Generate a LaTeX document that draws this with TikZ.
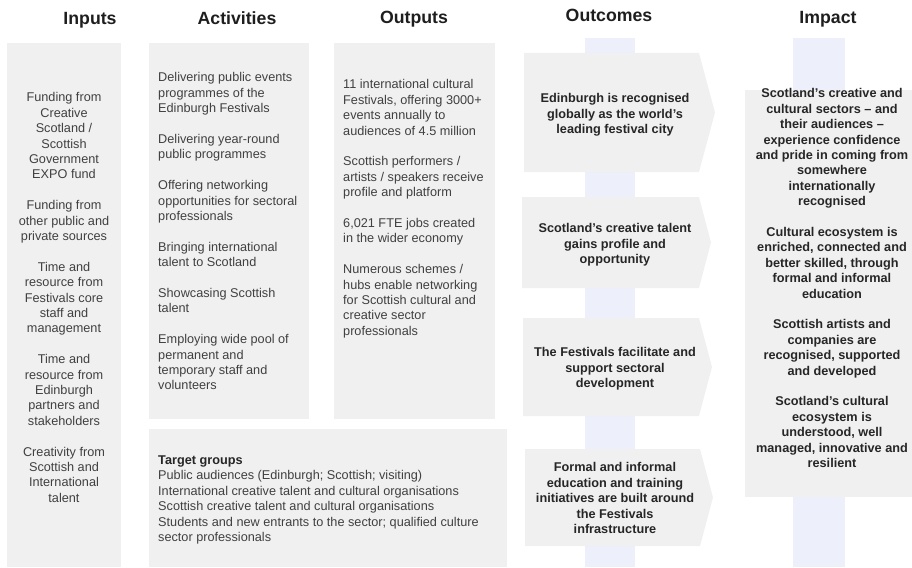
\documentclass[tikz,border=0pt]{standalone}
\usepackage{fontspec}
\setmainfont{Liberation Sans}
\definecolor{boxgray}{HTML}{F0F0F0}
\definecolor{stripc}{HTML}{EDEFFA}
\definecolor{bodytext}{HTML}{404040}
\definecolor{titletext}{HTML}{1E1E1E}
\definecolor{outtext}{HTML}{262626}
\tikzset{
  panel/.style={fill=boxgray, draw=none},
  stripe/.style={fill=stripc, draw=none},
  heading/.style={font=\fontsize{17.7}{20}\selectfont\bfseries, text=titletext, inner sep=0, anchor=base},
  body/.style={font=\fontsize{12.7}{15.4}\selectfont, text=bodytext, inner sep=0},
  bodyc/.style={body, align=center, anchor=north},
  bodyl/.style={body, align=left, anchor=north west},
  boldc/.style={font=\fontsize{12.7}{15.4}\selectfont\bfseries, text=outtext, inner sep=0, align=center, anchor=north},
}
\begin{document}
\begin{tikzpicture}[x=1pt,y=-1pt]
\useasboundingbox (0,0) rectangle (912,567);
% background strips
\path[stripe] (585,38) rectangle (635,567);
\path[stripe] (793,38) rectangle (845,567);
% panels
\path[panel] (7,43) rectangle (121,567);
\path[panel] (149,43) rectangle (309,419);
\path[panel] (334,43) rectangle (495,419);
\path[panel] (149,429) rectangle (507,567);
\path[panel] (745,90) rectangle (912,497);
% outcome arrows
\path[panel] (524,53) -- (699,53) -- (715,112.5) -- (699,172) -- (524,172) -- cycle;
\path[panel] (522,197) -- (699,197) -- (711,242.5) -- (699,288) -- (522,288) -- cycle;
\path[panel] (523,318) -- (699,318) -- (712,367) -- (699,416) -- (523,416) -- cycle;
\path[panel] (525,449) -- (700,449) -- (713,497.5) -- (700,546) -- (525,546) -- cycle;
% headings
\node[heading] (hin) at (90,25) {Inputs};
\node[heading] (hact) at (237,25) {Activities};
\node[heading] (hout) at (414,23.5) {Outputs};
\node[heading] (hoc) at (609,22) {Outcomes};
\node[heading] (him) at (828,23.5) {Impact};
% inputs
\node[bodyc] (inputs) at (64,92.5) {Funding from\\Creative\\Scotland /\\Scottish\\Government\\EXPO fund\\[15.4pt]
Funding from\\other public and\\private sources\\[15.4pt]
Time and\\resource from\\Festivals core\\staff and\\management\\[15.4pt]
Time and\\resource from\\Edinburgh\\partners and\\stakeholders\\[15.4pt]
Creativity from\\Scottish and\\International\\talent};
% activities
\node[bodyl] (activities) at (158,72.5) {Delivering public events\\
programmes of the\\
Edinburgh Festivals\\[15.4pt]
Delivering year-round\\
public programmes\\[15.4pt]
Offering networking\\
opportunities for sectoral\\
professionals\\[15.4pt]
Bringing international\\
talent to Scotland\\[15.4pt]
Showcasing Scottish\\
talent\\[15.4pt]
Employing wide pool of\\
permanent and\\
temporary staff and\\
volunteers};
% outputs
\node[bodyl] (outputs) at (343,79.5) {11 international cultural\\
Festivals, offering 3000+\\
events annually to\\
audiences of 4.5 million\\[15.4pt]
Scottish performers /\\
artists / speakers receive\\
profile and platform\\[15.4pt]
6,021 FTE jobs created\\
in the wider economy\\[15.4pt]
Numerous schemes /\\
hubs enable networking\\
for Scottish cultural and\\
creative sector\\
professionals};
% target groups
\node[bodyl] (targets) at (158,455.5) {\textbf{\color{outtext}Target groups}\\
Public audiences (Edinburgh; Scottish; visiting)\\
International creative talent and cultural organisations\\
Scottish creative talent and cultural organisations\\
Students and new entrants to the sector; qualified culture\\
sector professionals};
% outcomes
\node[boldc] (oc1) at (615,93.5) {Edinburgh is recognised\\globally as the world’s\\leading festival city};
\node[boldc] (oc2) at (615,223.5) {Scotland’s creative talent\\gains profile and\\opportunity};
\node[boldc] (oc3) at (615,347.5) {The Festivals facilitate and\\support sectoral\\development};
\node[boldc] (oc4) at (615,462.5) {Formal and informal\\education and training\\initiatives are built around\\the Festivals\\infrastructure};
% impact
\node[boldc] (impact) at (832,88.5) {Scotland’s creative and\\cultural sectors – and\\their audiences –\\experience confidence\\and pride in coming from\\somewhere\\internationally\\recognised\\[15.4pt]
Cultural ecosystem is\\enriched, connected and\\better skilled, through\\formal and informal\\education\\[15.4pt]
Scottish artists and\\companies are\\recognised, supported\\and developed\\[15.4pt]
Scotland’s cultural\\ecosystem is\\understood, well\\managed, innovative and\\resilient};
\end{tikzpicture}
\end{document}
